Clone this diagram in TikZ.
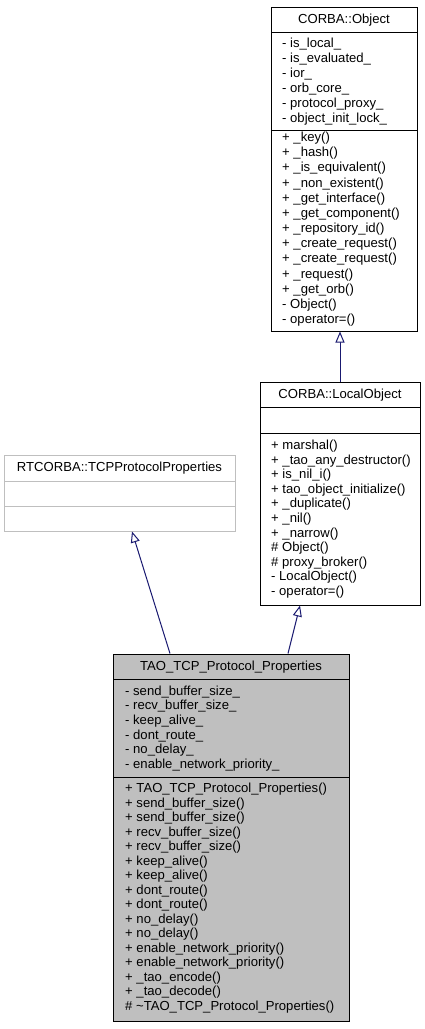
\documentclass[tikz,border=0pt]{standalone}
\usepackage{fontspec}
\setmainfont{Liberation Sans}
\usetikzlibrary{arrows.meta}
\definecolor{edgeblue}{HTML}{191970}
\definecolor{taofill}{HTML}{BFBFBF}
\definecolor{rtgray}{HTML}{BFBFBF}
\tikzset{
  classbox/.style={draw=black, line width=1pt, rectangle, inner sep=0pt},
  member/.style={anchor=base west, inner sep=0pt, font=\fontsize{13.1}{14}\selectfont},
  classtitle/.style={anchor=base, inner sep=0pt, font=\fontsize{13.1}{14}\selectfont},
  sepline/.style={line width=1pt},
  inh/.style={draw=edgeblue, line width=1pt, -{Triangle[open, length=11pt, width=9pt, fill=white]}},
}
\begin{document}
\begin{tikzpicture}[x=1pt,y=-1pt]
\useasboundingbox (0,0) rectangle (425,1029);
% CORBA::Object
\node[classbox, minimum width=146pt, minimum height=324pt] (obj) at (344,169) {};
\draw[sepline] (271,32) -- (417,32);
\draw[sepline] (271,130) -- (417,130);
\node[classtitle] (objt) at (344,23) {CORBA::Object};
\foreach \t [count=\i from 0] in {- is\_local\_, - is\_evaluated\_, - ior\_, - orb\_core\_, - protocol\_proxy\_, - object\_init\_lock\_}
  \node[member] (oa\i) at (282,47.7+15*\i) {\t};
\foreach \t [count=\i from 0] in {+ \_key(), + \_hash(), + \_is\_equivalent(), + \_non\_existent(), + \_get\_interface(), + \_get\_component(), + \_repository\_id(), + \_create\_request(), + \_create\_request(), + \_request(), + \_get\_orb(), - Object(), - operator=()}
  \node[member] (om\i) at (282,141.5+15.17*\i) {\t};
% CORBA::LocalObject
\node[classbox, minimum width=160pt, minimum height=223pt] (lo) at (340,493.5) {};
\draw[sepline] (260,407) -- (420,407);
\draw[sepline] (260,433) -- (420,433);
\node[classtitle] (lot) at (340,398) {CORBA::LocalObject};
\foreach \t [count=\i from 0] in {+ marshal(), + \_tao\_any\_destructor(), + is\_nil\_i(), + tao\_object\_initialize(), + \_duplicate(), + \_nil(), + \_narrow(), \# Object(), \# proxy\_broker(), - LocalObject(), - operator=()}
  \node[member] (lm\i) at (271,449.5+14.6*\i) {\t};
% RTCORBA::TCPProtocolProperties
\node[classbox, draw=rtgray, minimum width=231pt, minimum height=76pt] (rt) at (119.5,493) {};
\draw[sepline, rtgray] (4,481) -- (235,481);
\draw[sepline, rtgray] (4,506) -- (235,506);
\node[classtitle] (rtt) at (119.5,471) {RTCORBA::TCPProtocolProperties};
% TAO_TCP_Protocol_Properties
\node[classbox, fill=taofill, minimum width=236pt, minimum height=367pt] (tao) at (231,837.5) {};
\draw[sepline] (113,679) -- (349,679);
\draw[sepline] (113,777) -- (349,777);
\node[classtitle] (taot) at (231,670) {TAO\_TCP\_Protocol\_Properties};
\foreach \t [count=\i from 0] in {- send\_buffer\_size\_, - recv\_buffer\_size\_, - keep\_alive\_, - dont\_route\_, - no\_delay\_, - enable\_network\_priority\_}
  \node[member] (ta\i) at (125,695+14.7*\i) {\t};
\foreach \t [count=\i from 0] in {+ TAO\_TCP\_Protocol\_Properties(), + send\_buffer\_size(), + send\_buffer\_size(), + recv\_buffer\_size(), + recv\_buffer\_size(), + keep\_alive(), + keep\_alive(), + dont\_route(), + dont\_route(), + no\_delay(), + no\_delay(), + enable\_network\_priority(), + enable\_network\_priority(), + \_tao\_encode(), + \_tao\_decode(), \# \textasciitilde TAO\_TCP\_Protocol\_Properties()}
  \node[member] (tm\i) at (125,792.5+14.5*\i) {\t};
% inheritance
\draw[inh] (lo.north) -- (lo.north |- obj.south);
\draw[inh] ([xshift=-61pt]tao.north) -- ([xshift=12.5pt]rt.south);
\draw[inh] ([xshift=57pt]tao.north) -- ([xshift=-40pt]lo.south);
\end{tikzpicture}
\end{document}
